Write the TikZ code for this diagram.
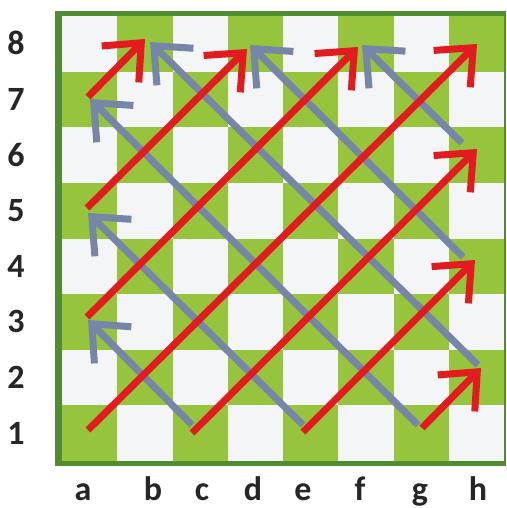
\documentclass[tikz,border=0pt]{standalone}
\usepackage{fontspec}
\setmainfont{Carlito}
\usetikzlibrary{arrows.meta}
\definecolor{boardgreen}{RGB}{150,196,60}
\definecolor{borderdark}{RGB}{80,140,50}
\definecolor{lightsq}{RGB}{244,245,247}
\definecolor{redarrow}{RGB}{226,28,30}
\definecolor{bluearrow}{RGB}{118,134,166}
\begin{document}
\begin{tikzpicture}[x=1pt,y=-1pt,
  redarr/.style={draw=redarrow, line width=7pt, -{Straight Barb[length=30pt,width=52pt]}},
  bluearr/.style={draw=bluearrow, line width=7pt, -{Straight Barb[length=30pt,width=52pt]}},
  lbl/.style={font=\fontsize{34}{34}\selectfont\bfseries, text=black!85, inner sep=0pt}]
\useasboundingbox (0,0) rectangle (506,508);
\fill[white] (0,0) rectangle (506,508);
\fill[borderdark] (55,11) rectangle (506,466);
\fill[lightsq] (62,16) rectangle (504,461);
\foreach \i in {0,...,7} {
  \foreach \r in {1,...,8} {
    \pgfmathtruncatemacro\sqpar{mod(\i+\r,2)}
    \ifnum\sqpar=1
      \fill[boardgreen] ({62+55.25*\i},{461-55.625*\r}) rectangle ({62+55.25*(\i+1)},{461-55.625*(\r-1)});
    \fi
  }
}
% rank labels
\foreach \r in {1,...,8} {
  \node[lbl, anchor=base] (rank\r) at (16,{461-55.625*(\r-0.5)+11}) {\r};
}
% file labels
\foreach \f/\x in {a/83,b/153,c/202,d/253,e/303,f/360,g/420,h/478} {
  \node[lbl, anchor=base] (file\f) at (\x,500) {\f};
}
% endpoints
\coordinate (ra1) at (88,430);  \coordinate (rh8) at (477,44);
\coordinate (ra3) at (87,317);  \coordinate (rf8) at (358,47);
\coordinate (ra5) at (87,208);  \coordinate (rd8) at (247,49);
\coordinate (ra7) at (88,97);   \coordinate (rb8) at (145,39);
\coordinate (rc1) at (192,433); \coordinate (rh6) at (477,149);
\coordinate (re1) at (303,432); \coordinate (rh4) at (475,260);
\coordinate (rg1) at (422,428); \coordinate (rh2) at (481,368);
\coordinate (bc1) at (192,425); \coordinate (ba3) at (88,320);
\coordinate (be1) at (303,425); \coordinate (ba5) at (88,213);
\coordinate (bg1) at (418,425); \coordinate (ba7) at (90,99);
\coordinate (bh2) at (478,365); \coordinate (bb8) at (150,42);
\coordinate (bh4) at (463,257); \coordinate (bd8) at (250,45);
\coordinate (bh6) at (462,143); \coordinate (bf8) at (362,45);
% blue arrows
\draw[bluearr] (bc1) -- (ba3);
\draw[bluearr] (be1) -- (ba5);
\draw[bluearr] (bg1) -- (ba7);
\draw[bluearr] (bh2) -- (bb8);
\draw[bluearr] (bh4) -- (bd8);
\draw[bluearr] (bh6) -- (bf8);
% red arrows
\draw[redarr] (ra1) -- (rh8);
\draw[redarr] (ra3) -- (rf8);
\draw[redarr] (ra5) -- (rd8);
\draw[redarr] (ra7) -- (rb8);
\draw[redarr] (rc1) -- (rh6);
\draw[redarr] (re1) -- (rh4);
\draw[redarr] (rg1) -- (rh2);
\end{tikzpicture}
\end{document}
